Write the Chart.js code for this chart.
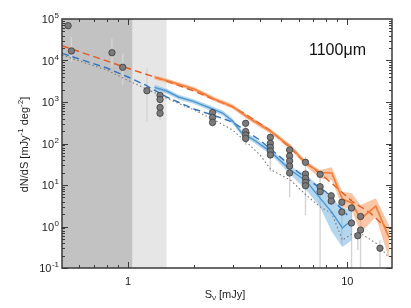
<!DOCTYPE html>
<html>
<head>
<meta charset="utf-8">
<script src="https://cdn.jsdelivr.net/npm/chart.js@4.4.1/dist/chart.umd.min.js"></script>
<style>
  html, body { margin: 0; padding: 0; background: #fff; }
  canvas { display: block; }
</style>
</head>
<body>
<canvas id="c" width="411" height="308"></canvas>
<script>
// axis ranges and shaded (incomplete) flux regions
const X_MIN = 0.5, X_MAX = 16;
const Y_MIN = 0.1, Y_MAX = 1e5;
const SHADE_DARK = [0.5, 1.05];
const SHADE_LIGHT = [1.05, 1.5];
const X_LABELS = [1, 10];
const Y_DECADES = [-1, 0, 1, 2, 3, 4, 5];
const BAND_LABEL = "1100\u03bcm";

// observed counts (grey dots)
const obsS = [0.533, 0.552, 0.845, 0.946, 1.22, 1.40, 1.40, 1.40, 1.40,
  2.43, 2.43, 2.43, 3.44, 3.44, 3.44, 3.44,
  4.46, 4.46, 4.46, 4.46, 4.46, 5.46, 5.46, 5.46, 5.46, 5.46,
  6.45, 6.45, 6.45, 6.45, 6.45, 7.52, 7.52, 7.52, 8.45, 8.45,
  9.45, 9.45, 10.46, 10.46, 11.5, 11.5, 11.17, 14.1];
const obsN = [6.9e4, 1.7e4, 1.54e4, 6.86e3, 1.87e3, 1440, 1150, 737, 535,
  558, 424, 321, 307, 194, 160, 132,
  141, 101, 81, 66, 53, 70, 50, 37.9, 28.7, 19.5,
  35.2, 18.4, 14.5, 11.6, 9.6, 18.1, 9.1, 6.9, 5.5, 4.1,
  3.83, 2.23, 2.79, 1.21, 1.74, 0.82, 0.60, 0.30];

// error bars of the observed counts
const errS  = [0.552, 0.845, 0.946, 1.22, 1.40, 2.43, 3.44, 4.46, 5.46, 6.45, 7.52, 8.45, 9.45, 10.46, 11.17, 11.5, 14.1];
const errHi = [3.7e4, 3.4e4, 1.49e4, 6.5e3, 1.77e3, 641, 335, 176, 82, 48, 19.5, 6.3, 4.3, 5.2, 0.7, 2.1, 0.47];
const errLo = [9.2e3, 7.1e3, 2.57e3, 335, 368, 254, 92, 21, 5, 1.9, 0.05, 3.3, 0.36, 0.05, 0.27, 0.05, 0.05];

// orange: measured counts with band
const orgS  = [1.32, 1.5, 2.0, 2.5, 3.0, 3.5, 4.5, 5.5, 6.5, 7.5, 8.5, 9.5, 10.5, 11.5, 13.5, 15.5];
const orgN  = [3.94e3, 3.3e3, 2.06e3, 1.15e3, 780, 435, 192, 84, 33, 20, 19.5, 4.6, 3.7, 1.52, 3.1, 0.54];
const orgHi = [4.4e3, 3.7e3, 2.3e3, 1.3e3, 880, 490, 220, 96, 38, 23, 26.7, 6.9, 6.3, 3.3, 4.8, 1.09];
const orgLo = [3.5e3, 2.9e3, 1.85e3, 1.02e3, 690, 385, 168, 73, 28, 14.5, 13.2, 3.0, 2.5, 0.70, 1.72, 0.17];

// orange dashed model
const orgModS = [0.5, 0.7, 1.0, 1.5, 2.0, 2.5, 3.0, 3.5, 4.4, 5.45, 6.25, 7.86, 9.0, 10.6, 12.6, 15.1];
const orgModN = [2.27e4, 1.24e4, 6.5e3, 3.2e3, 1.83e3, 1.12e3, 760, 480, 215, 82, 40, 15.6, 8.5, 3.9, 2.23, 0.92];

// blue: measured counts with band
const bluS  = [1.32, 1.5, 1.7, 2.0, 2.4, 2.7, 3.0, 3.3, 3.7, 4.5, 5.5, 6.5, 7.5, 8.5, 9.5, 10.5];
const bluN  = [2.26e3, 1.84e3, 1.32e3, 1.02e3, 697, 543, 348, 179, 128, 62, 23, 12.5, 4.9, 2.23, 0.92, 1.44];
const bluHi = [2.6e3, 2.1e3, 1.5e3, 1.17e3, 800, 625, 400, 205, 147, 72, 28, 17.4, 9.1, 4.4, 3.0, 2.3];
const bluLo = [1.97e3, 1.6e3, 1.15e3, 890, 605, 470, 300, 155, 110, 53, 18, 7.6, 3.0, 0.75, 0.32, 0.47];

// blue dashed model
const bluModS = [0.5, 0.8, 1.0, 1.2, 1.5, 2.0, 2.5, 3.0, 4.0, 5.0, 6.0, 7.0, 8.0, 9.0, 10.0];
const bluModN = [1.49e4, 6.6e3, 4.0e3, 2.57e3, 1.32e3, 678, 460, 330, 120, 45, 20, 11, 6.8, 3.4, 1.9];

// grey dotted model
const gryS = [0.5, 0.8, 1.0, 1.3, 1.6, 2.0, 2.5, 3.0, 3.5, 4.0, 4.5, 5.5, 6.5, 7.5, 8.5, 9.5, 10.5, 11.5, 13.5, 15.5];
const gryN = [1.35e4, 5.9e3, 3.3e3, 1.74e3, 1.06e3, 641, 358, 211, 103, 53, 23, 13.2, 5.7, 3.0, 2.08, 0.47, 0.66, 0.68, 0.40, 0.18];

const xy = (xs, ys) => xs.map((x, i) => ({ x, y: ys[i] }));

const errPts = [];
errS.forEach((s, i) => {
  errPts.push({ x: s, y: errLo[i] }, { x: s, y: errHi[i] }, { x: s, y: null });
});

const FRAME = "#3a3a3a";
const FONT = "'Liberation Sans', Arial, Helvetica, sans-serif";

const line = (data, color, width, dash) => ({
  type: "line", data, borderColor: color, borderWidth: width,
  borderDash: dash || [], pointRadius: 0, fill: false, tension: 0,
});

// draws the text "10" with a raised exponent, right aligned at xr
function drawPow(ctx, exp, xr, yBase) {
  ctx.font = "11px " + FONT;
  const w1 = ctx.measureText("10").width;
  ctx.font = "8px " + FONT;
  const w2 = ctx.measureText(exp).width;
  const x0 = xr - w1 - w2 - 0.5;
  ctx.font = "11px " + FONT;
  ctx.fillText("10", x0, yBase);
  ctx.font = "8px " + FONT;
  ctx.fillText(exp, x0 + w1 + 0.5, yBase - 5);
}

const framePlugin = {
  id: "frame",
  beforeDatasetsDraw(chart) {
    const { ctx, chartArea: a, scales: { x } } = chart;
    ctx.save();
    ctx.fillStyle = "#c2c2c2";
    const d0 = x.getPixelForValue(SHADE_DARK[0]), d1 = x.getPixelForValue(SHADE_DARK[1]);
    ctx.fillRect(d0, a.top, d1 - d0, a.bottom - a.top);
    ctx.fillStyle = "#e6e6e6";
    const l1 = x.getPixelForValue(SHADE_LIGHT[1]);
    ctx.fillRect(d1, a.top, l1 - d1, a.bottom - a.top);
    ctx.restore();
  },
  afterDraw(chart) {
    const { ctx, chartArea: a, scales: { x, y } } = chart;
    ctx.save();
    ctx.strokeStyle = FRAME;
    ctx.lineWidth = 1;
    ctx.beginPath();
    // x ticks (minor 0.6..0.9, 2..9; major 1, 10)
    const xt = [];
    for (let d = -1; d <= 1; d++) {
      for (let m = 1; m <= 9; m++) {
        const v = m * Math.pow(10, d);
        if (v > X_MIN && v < X_MAX) xt.push([v, m === 1]);
      }
    }
    xt.forEach(([v, major]) => {
      const px = Math.round(x.getPixelForValue(v)) + 0.5;
      const len = major ? 6 : 3;
      ctx.moveTo(px, a.bottom); ctx.lineTo(px, a.bottom - len);
      ctx.moveTo(px, a.top); ctx.lineTo(px, a.top + len);
    });
    for (let d = -1; d <= 4; d++) {
      for (let m = 1; m <= 9; m++) {
        const v = m * Math.pow(10, d);
        if (v < Y_MIN || v > Y_MAX) continue;
        const py = Math.round(y.getPixelForValue(v)) + 0.5;
        const len = m === 1 ? 6 : 3;
        ctx.moveTo(a.left, py); ctx.lineTo(a.left + len, py);
        ctx.moveTo(a.right, py); ctx.lineTo(a.right - len, py);
      }
    }
    ctx.stroke();
    ctx.lineWidth = 1.5;
    ctx.strokeRect(a.left, a.top, a.right - a.left, a.bottom - a.top);

    // tick labels
    ctx.fillStyle = "#1a1a1a";
    ctx.textBaseline = "alphabetic";
    ctx.textAlign = "left";
    Y_DECADES.forEach(e => {
      const py = y.getPixelForValue(Math.pow(10, e));
      drawPow(ctx, String(e), a.left - 3, py + 4);
    });
    ctx.font = "11px " + FONT;
    ctx.textAlign = "center";
    X_LABELS.forEach(v => {
      ctx.fillText(String(v), x.getPixelForValue(v), a.bottom + 17);
    });

    // x title: S_nu [mJy]
    ctx.textAlign = "left";
    const big = "11px " + FONT, small = "8px " + FONT;
    ctx.font = big; const wS = ctx.measureText("S").width;
    ctx.font = small; const wNu = ctx.measureText("\u03bd").width;
    ctx.font = big; const wR = ctx.measureText(" [mJy]").width;
    let tx = (a.left + a.right) / 2 - (wS + wNu + wR) / 2 - 2;
    const ty = a.bottom + 30;
    ctx.font = big; ctx.fillText("S", tx, ty); tx += wS;
    ctx.font = small; ctx.fillText("\u03bd", tx, ty + 2); tx += wNu;
    ctx.font = big; ctx.fillText(" [mJy]", tx, ty);

    // y title, rotated, with superscripts
    const parts = [["dN/dS [mJy", big, 0], ["-1", small, -5], [" deg", big, 0], ["-2", small, -5], ["]", big, 0]];
    let tot = 0;
    parts.forEach(p => { ctx.font = p[1]; tot += ctx.measureText(p[0]).width; });
    ctx.translate(28, (a.top + a.bottom) / 2 + 1);
    ctx.rotate(-Math.PI / 2);
    let sx = -tot / 2;
    parts.forEach(p => {
      ctx.font = p[1];
      ctx.fillText(p[0], sx, p[2]);
      sx += ctx.measureText(p[0]).width;
    });
    ctx.restore();

    // wavelength label
    ctx.save();
    ctx.fillStyle = "#111";
    ctx.font = "16px " + FONT;
    ctx.textAlign = "left";
    ctx.fillText(BAND_LABEL, 309, 55);
    ctx.restore();
  },
};

new Chart(document.getElementById("c"), {
  type: "line",
  data: {
    datasets: [
      {
        type: "scatter", data: xy(obsS, obsN), pointRadius: 3.2,
        backgroundColor: "#7b7b7b", borderColor: "#3c3c3c", borderWidth: 0.8,
      },
      line(xy(orgS, orgN), "#f47d3a", 1.6),
      line(xy(bluS, bluN), "#4b97d2", 1.4),
      line(xy(orgModS, orgModN), "#e65a1e", 1.4, [7, 4]),
      line(xy(bluModS, bluModN), "#2f74c0", 1.4, [7, 4]),
      line(xy(gryS, gryN), "#7a7a7a", 1.1, [1.5, 2.5]),
      {
        type: "line", data: xy(orgS, orgHi), borderWidth: 0, pointRadius: 0,
        fill: "+1", backgroundColor: "rgba(247,160,105,0.6)",
      },
      { type: "line", data: xy(orgS, orgLo), borderWidth: 0, pointRadius: 0, fill: false },
      {
        type: "line", data: xy(bluS, bluHi), borderWidth: 0, pointRadius: 0,
        fill: "+1", backgroundColor: "rgba(120,180,226,0.55)",
      },
      { type: "line", data: xy(bluS, bluLo), borderWidth: 0, pointRadius: 0, fill: false },
      line(errPts, "#d4d4d4", 1.4),
    ],
  },
  options: {
    responsive: false,
    animation: false,
    events: [],
    spanGaps: false,
    layout: { padding: { left: 0, right: 19, top: 19, bottom: 0 } },
    plugins: { legend: { display: false }, tooltip: { enabled: false } },
    scales: {
      x: {
        type: "logarithmic", min: X_MIN, max: X_MAX,
        grid: { display: false }, border: { display: false }, ticks: { display: false },
        afterFit: s => { s.height = 40; },
      },
      y: {
        type: "logarithmic", min: Y_MIN, max: Y_MAX,
        grid: { display: false }, border: { display: false }, ticks: { display: false },
        afterFit: s => { s.width = 62; },
      },
    },
  },
  plugins: [framePlugin],
});
</script>
</body>
</html>
